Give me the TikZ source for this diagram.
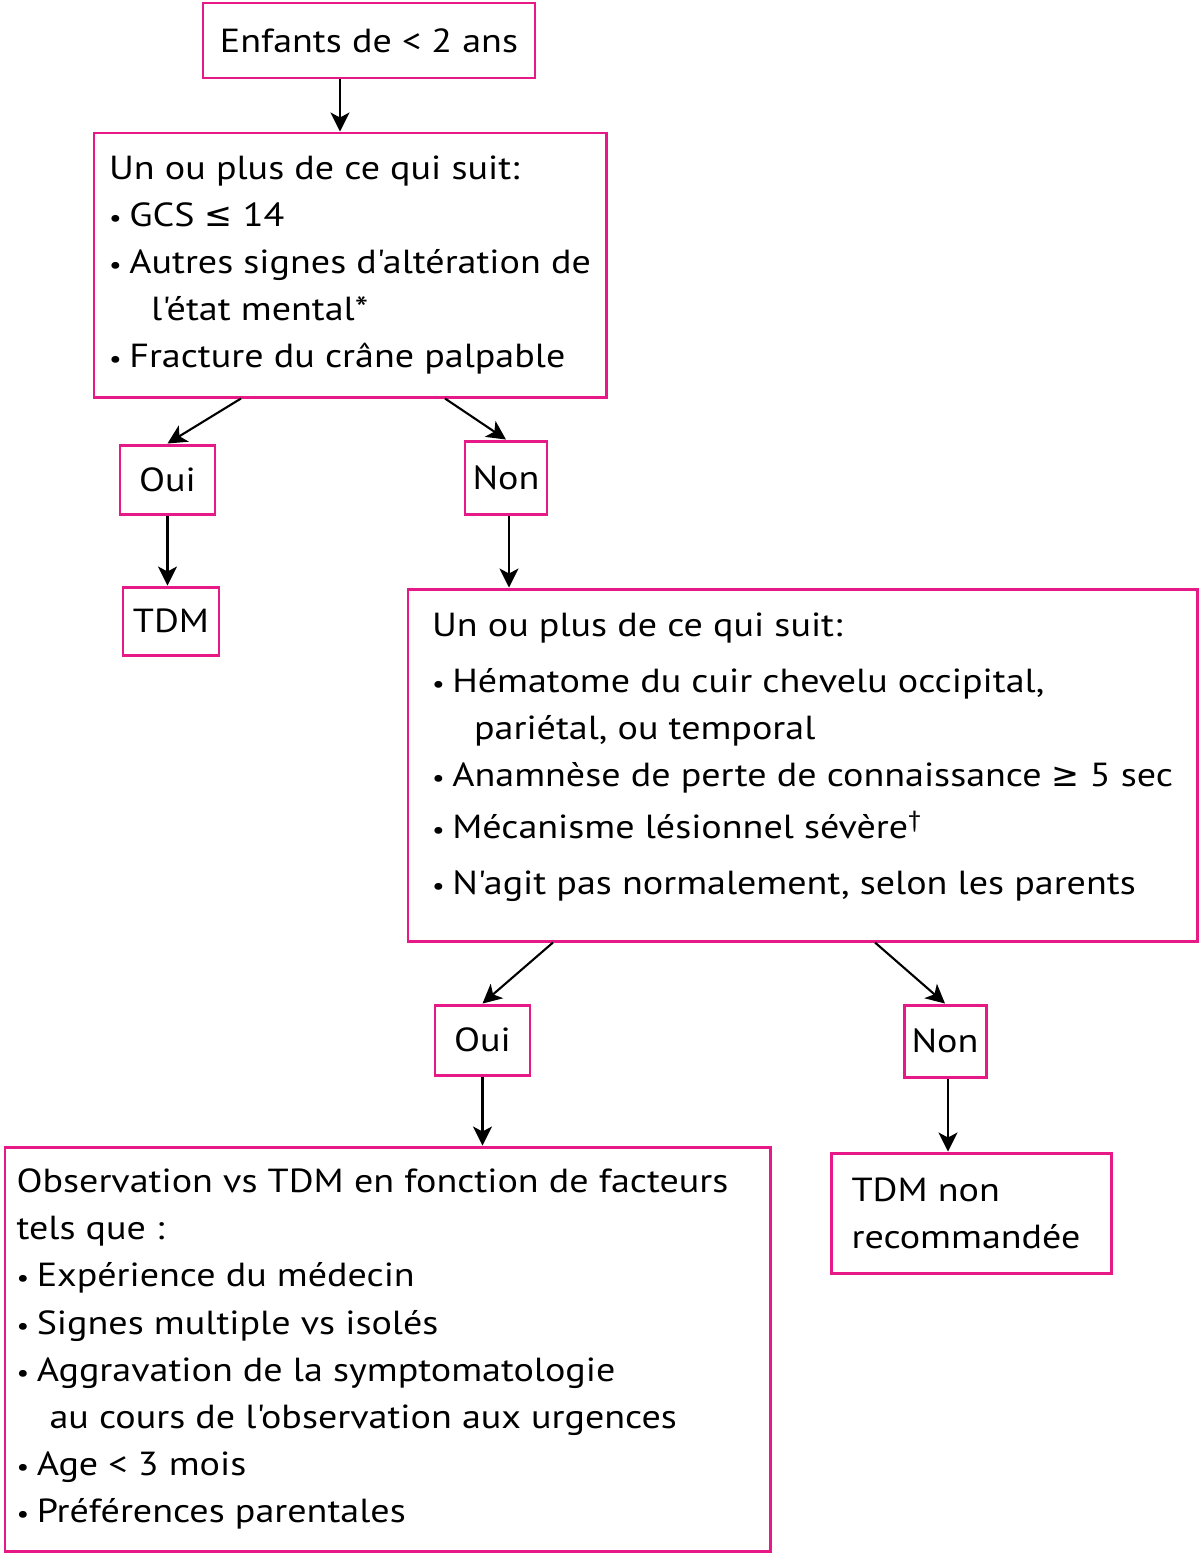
\documentclass[tikz,border=0pt]{standalone}
\usepackage{fontspec}
\setmainfont{PT Sans}[FakeStretch=1.14, Ligatures=TeXOff]
\newfontfamily\symfont{DejaVu Sans}
\usepackage{xcolor}
\usetikzlibrary{arrows.meta}
\definecolor{boxpink}{RGB}{230,25,135}
\newcommand{\bul}{{\fontsize{14}{14}\selectfont\textbullet}\hspace{0.15cm}}
\newcommand{\cont}{\hspace*{0.84cm}}
\newcommand{\lesym}{{\symfont ≤}}
\newcommand{\gesym}{{\symfont ≥}}

\begin{document}
\begin{tikzpicture}[
    box/.style={draw=boxpink, line width=1.7pt, inner sep=0pt, align=left,
        font=\fontsize{19}{26.8}\selectfont},
    arr/.style={-{Stealth[length=0.38cm,width=0.38cm,inset=0.1cm]}, line width=1.2pt}
]
    \useasboundingbox (0,0) rectangle (24,-31.08);

    \node[box, minimum width=6.64cm, minimum height=1.5cm] (start) at (7.38,-0.81) {Enfants de < 2 ans};
    \node[box, minimum width=10.24cm, minimum height=5.28cm] (crit1) at (7.0,-5.3)
        {Un ou plus de ce qui suit:\\
         \bul GCS \lesym{} 14\\
         \bul Autres signes d'altération de\\
         \cont l'état mental*\\
         \bul Fracture du crâne palpable};
    \node[box, minimum width=1.9cm, minimum height=1.38cm] (oui1) at (3.35,-9.59) {Oui};
    \node[box, minimum width=1.64cm, minimum height=1.46cm] (non1) at (10.12,-9.55) {Non};
    \node[box, minimum width=1.92cm, minimum height=1.36cm] (tdm1) at (3.42,-12.42) {TDM};

    \node[box, minimum width=15.78cm, minimum height=7.04cm] (crit2) at (16.05,-15.3)
        {Un ou plus de ce qui suit:\\[5pt]
         \bul Hématome du cuir chevelu occipital,\\
         \cont pariétal, ou temporal\\
         \bul Anamnèse de perte de connaissance \gesym{} 5 sec\\[3pt]
         \bul Mécanisme lésionnel sévère\textsuperscript{†}\\[5pt]
         \bul N'agit pas normalement, selon les parents\rule[-0.45cm]{0pt}{0pt}};
    \node[box, minimum width=1.9cm, minimum height=1.4cm] (oui2) at (9.65,-20.8) {Oui};
    \node[box, minimum width=1.64cm, minimum height=1.44cm] (non2) at (18.9,-20.82) {Non};

    \node[box, minimum width=15.3cm, minimum height=8.08cm] (obs) at (7.75,-26.98)
        {Observation vs TDM en fonction de facteurs\hspace*{0.6cm}\\
         tels que :\\
         \bul Expérience du médecin\\
         \bul Signes multiple vs isolés\\
         \bul Aggravation de la symptomatologie\\
         \hspace*{0.66cm}au cours de l'observation aux urgences\\
         \bul Age < 3 mois\\
         \bul Préférences parentales};
    \node[box, minimum width=5.6cm, minimum height=2.4cm] (nontdm) at (19.42,-24.26)
        {TDM non\\recommandée\hspace*{0.2cm}};

    \draw[arr] ([xshift=-0.58cm]start.south) -- ([xshift=-0.58cm]start.south |- crit1.north);
    \draw[arr] ([xshift=-2.18cm]crit1.south) -- (oui1.north);
    \draw[arr] ([xshift=1.9cm]crit1.south) -- (non1.north);
    \draw[arr] (oui1.south) -- (oui1.south |- tdm1.north);
    \draw[arr] ([xshift=0.06cm]non1.south) -- ([xshift=0.06cm]non1.south |- crit2.north);
    \draw[arr] ([xshift=-4.99cm]crit2.south) -- (oui2.north);
    \draw[arr] ([xshift=1.45cm]crit2.south) -- (non2.north);
    \draw[arr] (oui2.south) -- (oui2.south |- obs.north);
    \draw[arr] ([xshift=0.06cm]non2.south) -- ([xshift=0.06cm]non2.south |- nontdm.north);

\end{tikzpicture}
\end{document}
